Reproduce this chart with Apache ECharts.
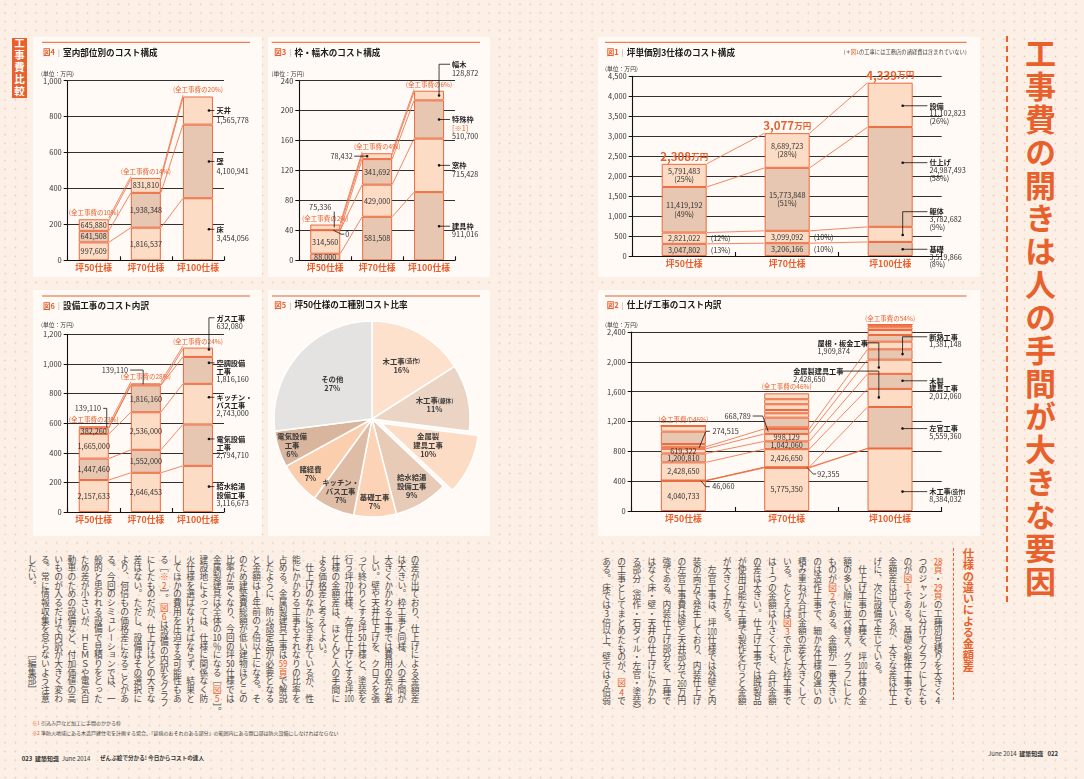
<!DOCTYPE html>
<html lang="ja">
<head>
<meta charset="utf-8">
<title>工事費の開きは人の手間が大きな要因</title>
<script src="https://cdn.jsdelivr.net/npm/echarts@6.0.0/dist/echarts.min.js"></script>
<style>
html,body{margin:0;padding:0;}
body{width:1084px;height:779px;overflow:hidden;position:relative;background-color:#fcf0e6;
 background-image:radial-gradient(circle,rgba(222,172,144,.6) 0.7px,transparent 1.1px);background-size:10.3px 8.7px;
 font-family:"Noto Sans CJK JP","Noto Sans",sans-serif;color:#333;}
.panel{position:absolute;background:#fffaf5;}
.vt{position:absolute;writing-mode:vertical-rl;white-space:nowrap;}
.body{font-size:8.7px;height:152px;color:#4a4a4a;}
.o{color:#e8602c;}
.tcy{text-combine-upright:all;}
.dash{position:absolute;width:0;}
.abs{position:absolute;white-space:nowrap;}
#chart{position:absolute;left:0;top:0;width:1084px;height:779px;}
</style>
</head>
<body>
<div class="panel" style="left:33px;top:37px;width:229px;height:240px"></div>
<div class="panel" style="left:268px;top:37px;width:222px;height:240px"></div>
<div class="panel" style="left:598px;top:37px;width:382px;height:240px"></div>
<div class="panel" style="left:33px;top:290px;width:229px;height:246px"></div>
<div class="panel" style="left:268px;top:290px;width:222px;height:246px"></div>
<div class="panel" style="left:598px;top:290px;width:382px;height:246px"></div>

<div class="vt" style="left:12px;top:38px;width:15px;height:60px;background:#e8602c;color:#fff;font-weight:bold;font-size:10.5px;line-height:15px;letter-spacing:1.4px;text-align:center;">工事費比較</div>

<div class="vt" style="right:24px;top:38px;font-size:31px;line-height:40px;letter-spacing:2px;font-weight:bold;color:#e8602c;">工事費の開きは人の手間が大きな要因</div>
<div class="dash" style="left:1006px;top:36px;height:566px;border-left:2.5px dashed #e8602c;"></div>

<div class="vt" style="right:108.7px;top:548px;font-size:11.3px;line-height:14px;font-weight:bold;color:#e8602c;">仕様の違いによる金額差</div>
<div class="dash" style="left:952.5px;top:548px;height:152px;border-left:1.5px dashed #e8602c;"></div>

<div class="vt body" id="bodyL" style="right:662.4px;top:555px;line-height:13.2px;"></div>
<div class="vt body" id="bodyR" style="right:138.5px;top:557px;line-height:15.06px;"></div>

<div class="abs" style="left:32px;top:719.7px;font-size:5px;line-height:6px;color:#444;"><span class="o">※1</span> 引込み戸など加工に手間のかかる枠</div>
<div class="abs" style="left:32px;top:729.7px;font-size:5px;line-height:6px;color:#444;"><span class="o">※2</span> 準防火地域にある木造戸建住宅を計画する場合、「延焼のおそれのある部分」の範囲内にある開口部は防火設備にしなければならない</div>

<div class="abs" style="left:21.7px;top:754.8px;font-size:6px;line-height:7px;color:#333;"><b>023</b>&nbsp; <b>建築知識</b>&nbsp; June 2014</div>
<div class="abs" style="left:100px;top:755px;font-size:5.6px;line-height:7px;color:#333;font-weight:bold;">ぜんぶ絵で分かる! 今日からコストの達人</div>
<div class="abs" style="right:26px;top:749.5px;font-size:6px;line-height:7px;color:#333;">June 2014&nbsp; <b>建築知識</b>&nbsp;&nbsp; <b>022</b></div>

<div id="chart"></div>

<script>
// ---------------- data ----------------
const categories = ['坪50仕様', '坪70仕様', '坪100仕様'];

// 図4 室内部位別のコスト構成 (円)
const ch4Floor   = [997609, 1816537, 3454056];
const ch4Wall    = [641508, 1938348, 4100941];
const ch4Ceiling = [645880, 831810, 1565778];
const ch4Share   = ['10%', '14%', '20%'];
const ch4Y       = [0, 1000, 200];

// 図3 枠・幅木のコスト構成 (円)
const ch3Door    = [88000, 581508, 911016];   // 建具枠
const ch3Window  = [314560, 429000, 715428];  // 窓枠
const ch3Special = [0, 341692, 510700];       // 特殊枠
const ch3Base    = [75336, 78432, 128872];    // 幅木
const ch3Share   = ['2%', '4%', '6%'];
const ch3Y       = [0, 240, 40];

// 図1 坪単価別3仕様のコスト構成 (円)
const ch1Found   = [3047802, 3206166, 3519866];   // 基礎
const ch1Frame   = [2821022, 3099092, 3782682];   // 躯体
const ch1Finish  = [11419192, 15773848, 24987493];// 仕上げ
const ch1Equip   = [5791483, 8689723, 11102823];  // 設備
const ch1FoundPct  = ['13%', '10%', '8%'];
const ch1FramePct  = ['12%', '10%', '9%'];
const ch1FinishPct = ['49%', '51%', '58%'];
const ch1EquipPct  = ['25%', '28%', '26%'];
const ch1Y       = [0, 4500, 500];

// 図6 設備工事のコスト内訳 (円)
const ch6Water   = [2157633, 2646453, 3116673];  // 給水給湯設備工事
const ch6Elec    = [1447460, 1552000, 2794710];  // 電気設備工事
const ch6Kitchen = [1665000, 2536000, 2743000];  // キッチン・バス工事
const ch6Air     = [382260, 1816160, 1816160];   // 空調設備工事
const ch6Gas     = [139110, 139110, 632080];     // ガス工事
const ch6Share   = ['23%', '28%', '24%'];
const ch6Y       = [0, 1200, 200];

// 図2 仕上げ工事のコスト内訳 (円) — unlabeled thin segments
const ch2Wood    = [4040733, 5775350, 8384032];  // 木工事(造作)
const ch2Thin    = [46060, 92355, 0];
const ch2Plaster = [0, 0, 5559360];              // 左官工事
const ch2Metal   = [2428650, 2426650, 2428650];  // 金属製建具工事
const ch2WoodFit = [1200810, 1042060, 2012060];  // 木製建具工事
const ch2Roof    = [619322, 998129, 1909874];    // 屋根・板金工事
const ch2Insul   = [274515, 668789, 1381148];    // 断熱工事
const ch2Other1  = [369000, 210000, 1025000];
const ch2Other2  = [1660000, 1300000, 900000];
const ch2Other3  = [780102, 590000, 670000];
const ch2Other4  = [0, 440000, 350000];
const ch2Other5  = [0, 770000, 230000];
const ch2Other6  = [0, 670000, 137369];
const ch2Other7  = [0, 790515, 0];
const ch2Share   = ['46%', '46%', '54%'];
const ch2Y       = [0, 2400, 400];

// 図5 坪50仕様の工種別コスト比率 (%)
const pieNames  = ['木工事(造作)', '木工事(躯体)', '金属製建具工事', '給水給湯設備工事', '基礎工事', 'キッチン・バス工事', '諸経費', '電気設備工事', 'その他'];
const pieLabelNames = ['木工事(造作)', '木工事(躯体)', '金属製\n建具工事', '給水給湯\n設備工事', '基礎工事', 'キッチン・\nバス工事', '諸経費', '電気設備\n工事', 'その他'];
const pieValues = [16, 11, 10, 9, 7, 7, 7, 6, 27];

// ---------------- body text ----------------
const bodyRLines = [
 '⟨28頁⟩・⟨29頁⟩の工種別見積りを大きく4',
 'つのジャンルに分けてグラフにしたも',
 'のが⟨図1⟩である。基礎や躯体工事でも',
 '金額差は出ているが、大きな差は仕上',
 'げに、次に設備で生じている。',
 '　仕上げ工事の工種を、坪100仕様の金',
 '額の多い順に並べ替え、グラフにした',
 'ものが⟨図2⟩である。金額が一番大きい',
 'のは造作工事で、細かな仕様の違いの',
 '積み重ねが合計金額の差を大きくして',
 'いる。たとえば⟨図3⟩で示した枠工事で',
 'は1つの金額は小さくても、合計金額',
 'の差は大きい。仕上げ工事では既製品',
 'が使用可能な工種で製作を行うと金額',
 'が大きく上がる。',
 '　左官工事は、坪100仕様では外壁と内',
 '装の両方で発生しており、内装仕上げ',
 'の左官工事費は壁と天井部分で260万円',
 '強である。内装仕上げ部分を、工種で',
 'はなく床・壁・天井の仕上げにかかわ',
 'る部分（造作・石タイル・左官・塗装）',
 'の工事としてまとめたものが、⟨図4⟩で',
 'ある。床では3倍以上、壁では5倍弱'
];
const bodyLLines = [
 'の差が出ており、仕上げによる金額差',
 'は大きい。枠工事と同様、人の手間が',
 '大きくかかわる工事では費用の差が著',
 'しい。壁や天井仕上げを、クロスを張',
 'って終わりとする坪50仕様と、塗装を',
 '行う坪70仕様、左官仕上げとする坪100',
 '仕様の金額差は、ほとんど人の手間に',
 'よる価格差と考えてよい。',
 '　仕上げのなかに含まれているが、性',
 '能にかかわる工事もそれなりの比率を',
 '占める。金属製建具工事は⟨59頁⟩で解説',
 'したように、防火認定品が必要となる',
 'と金額は1年前の2倍以上になる。そ',
 'のため建築費総額が低い建物ほどこの',
 '比率が高くなり、今回の坪50仕様では',
 '金属製建具は全体の10％になる［⟨図5⟩］。',
 '建設地によっては、仕様に関係なく防',
 '火仕様を選ばなければならず、結果と',
 'してほかの費用を圧迫する可能性もあ',
 'る［⟨※2⟩］。⟨図6⟩は設備の内訳をグラフ',
 'にしたものだが、仕上げほどの大きな',
 '差はない。ただし、設備はその選択に',
 'より、何倍もの価格差になることがあ',
 'る。今回のシミュレーションでは、一',
 '般的と思われる設備で見積りをとった',
 'ため差が小さいが、ＨＥＭＳや電気自',
 '動車のための設備など、付加価値の高',
 'いものが入るだけで内訳が大きく変わ',
 'る。常に情報収集を怠らないよう注意',
 'したい。　　　　　　　　［編集部］'
];
function vtHtml(lines) {
  return lines.map(s => s.replace(/\d+/g, d => '<span class="tcy">' + d + '</span>')
    .replace(/⟨/g, '<span class="o">').replace(/⟩/g, '</span>')).join('<br>');
}
document.getElementById('bodyL').innerHTML = vtHtml(bodyLLines);
document.getElementById('bodyR').innerHTML = vtHtml(bodyRLines);

// ---------------- chart ----------------
const FONT = '"Noto Sans CJK JP","Noto Sans",sans-serif';
const OR = '#ec6a3f';
const ORT = '#e95e2c';
const LT = '#fcdcc4', DK = '#e7c7b1';
const fmt = v => Math.round(v).toLocaleString('en-US');

function makeRich(lh) {
  return {
    n: {fontSize: 7.2, fontWeight: 'bold', fill: '#1e1e1e', fontFamily: FONT, lineHeight: lh},
    s: {fontSize: 5.4, fontWeight: 'bold', fill: '#1e1e1e', fontFamily: FONT, lineHeight: lh},
    v: {fontSize: 7.3, fill: '#333', fontFamily: FONT, lineHeight: lh},
    o: {fontSize: 7.3, fill: ORT, fontFamily: FONT, lineHeight: lh}
  };
}
function richName(s) {
  const m = s.match(/^(.*)(\(.+\))$/);
  return m ? '{n|' + m[1] + '}{s|' + m[2] + '}' : '{n|' + s + '}';
}
function block(name, val, note, pct) {
  const parts = name.split('\n').map(richName);
  if (note) parts.push('{o|' + note + '}');
  if (val != null) parts.push('{v|' + fmt(val) + '}');
  if (pct) parts.push('{v|(' + pct + ')}');
  return parts.join('\n');
}

const grids = [], xAxes = [], yAxes = [], series = [], graphics = [];

function stackChart(c) {
  const gi = grids.length;
  grids.push({left: c.box[0], top: c.box[1], width: c.box[2], height: c.box[3], containLabel: false, outerBoundsMode: 'none'});
  xAxes.push({type: 'category', gridIndex: gi, data: categories, boundaryGap: true,
    axisLine: {show: true, lineStyle: {color: '#111', width: 1.1}},
    axisTick: {show: true, inside: true, length: 4, lineStyle: {color: '#111', width: 1.1}},
    splitLine: {show: false},
    axisLabel: {color: ORT, fontWeight: 'bold', fontSize: 8.8, margin: c.catMargin, fontFamily: FONT, interval: 0, hideOverlap: false}, z: 5});
  yAxes.push({type: 'value', gridIndex: gi, min: c.y[0], max: c.y[1], interval: c.y[2],
    axisLine: {show: true, lineStyle: {color: '#111', width: 1.1}},
    axisTick: {show: true, length: 4, lineStyle: {color: '#111', width: 1}},
    splitLine: {show: true, lineStyle: {color: '#1a1a1a', width: 0.9, type: 'solid'}},
    axisLabel: {fontSize: 7.5, color: '#333', margin: 6, fontFamily: FONT, formatter: v => fmt(v)}});
  const n = c.layers.length;
  const vals = c.layers.map(l => l.yen.map(v => v / 10000));
  const cum = [], base = [];
  for (let k = 0; k < n; k++) {
    cum.push([]); base.push([]);
    for (let i = 0; i < 3; i++) {
      const b = k ? cum[k - 1][i] : 0;
      base[k].push(b); cum[k].push(b + vals[k][i]);
    }
  }
  c.layers.forEach((l, k) => {
    series.push({type: 'bar', name: l.name, xAxisIndex: gi, yAxisIndex: gi, stack: 'st' + gi, barWidth: c.bw,
      clip: false, silent: true, animation: false,
      itemStyle: {borderColor: OR, borderWidth: 1},
      data: vals[k].map((v, i) => ({value: v, itemStyle: {color: l.color},
        label: {show: !!(l.inner && l.inner[i]), position: 'inside', fontSize: 7.3, color: '#333', fontFamily: FONT, lineHeight: 8.4,
          formatter: () => fmt(l.yen[i]) + (l.innerPct ? '\n(' + l.pct[i] + ')' : '')}}))});
  });
  const rich = makeRich(c.lh);
  series.push({type: 'custom', xAxisIndex: gi, yAxisIndex: gi, data: [[0, 0]], silent: true, animation: false, z: 10, clip: false,
    renderItem: (params, api) => {
      const ch = [];
      const hw = c.bw / 2;
      const P = (i, v) => api.coord([i, v]);
      const h = {P, hw, base, cum, vals,
        dot: (x, y) => ({type: 'circle', shape: {cx: x, cy: y, r: 1.3}, style: {fill: '#111'}}),
        poly: pts => ({type: 'polyline', shape: {points: pts}, style: {stroke: '#111', lineWidth: 0.8, fill: 'none'}}),
        text: (x, y, t, align, r2) => ({type: 'text', x, y, style: {text: t, rich: r2 || rich, align: align || 'left', verticalAlign: 'middle', fontFamily: FONT, fontSize: 7.3, fill: '#333'}}),
        block: (x, y, t, align) => ({type: 'text', x, y: y - c.lh / 2, style: {text: t, rich, align: align || 'left', verticalAlign: 'top', fontFamily: FONT}})
      };
      // connector lines between bars
      const nc = c.connect == null ? n : c.connect;
      for (let i = 0; i < 2; i++) {
        for (let k = 0; k < nc; k++) {
          const a = P(i, cum[k][i]), b = P(i + 1, cum[k][i + 1]);
          const offs = (k === n - 1 && c.doubleTop) ? [-1.4, 1.4] : [0];
          offs.forEach(o => ch.push({type: 'line', shape: {x1: a[0] + hw, y1: a[1] + o, x2: b[0] - hw, y2: b[1] + o}, style: {stroke: OR, lineWidth: 0.8}}));
        }
      }
      // share annotations
      (c.share || []).forEach((s, i) => {
        const p = P(i, cum[n - 1][i]);
        ch.push({type: 'text', x: p[0], y: p[1] - 6.5, style: {text: '(全工事費の' + s + ')', fill: ORT, fontSize: 6.5, fontFamily: FONT, align: 'center', verticalAlign: 'middle'}});
      });
      // right-hand labels of the last bar
      (c.right || []).forEach(r => {
        const k = r.k, L = c.layers[k];
        const v = base[k][2] + vals[k][2] * (r.frac == null ? 0.5 : r.frac);
        const p = P(2, v);
        const bx = p[0] + hw;
        const dx = bx - c.dotIn, dy = p[1];
        const ly = dy + (r.dy || 0);
        const lx = bx + c.gap;
        ch.push(h.poly([[dx, dy], [dx, ly], [lx - 2, ly]]));
        ch.push(h.dot(dx, dy));
        ch.push(h.block(lx, ly, block(r.name, L.yen[2], r.note, r.pct ? L.pct[2] : null), 'left'));
      });
      if (c.extra) c.extra(ch, h);
      return {type: 'group', children: ch};
    }});
}

// 図4
stackChart({box: [67.7, 80.7, 156.3, 179.6], y: ch4Y, bw: 30, catMargin: 2.5, lh: 9.3, dotIn: 4, gap: 3.5,
  doubleTop: true, share: ch4Share,
  layers: [
    {name: '床', yen: ch4Floor, color: LT, inner: [1, 1, 0]},
    {name: '壁', yen: ch4Wall, color: DK, inner: [1, 1, 0]},
    {name: '天井', yen: ch4Ceiling, color: LT, inner: [1, 1, 0]}
  ],
  right: [{k: 2, name: '天井'}, {k: 1, name: '壁'}, {k: 0, name: '床'}]
});

// 図3
stackChart({box: [299.3, 80.7, 155.7, 179.6], y: ch3Y, bw: 30, catMargin: 2.5, lh: 8.5, dotIn: 5, gap: 8,
  doubleTop: true, share: ch3Share,
  layers: [
    {name: '建具枠', yen: ch3Door, color: DK, inner: [1, 1, 0]},
    {name: '窓枠', yen: ch3Window, color: LT, inner: [1, 1, 0]},
    {name: '特殊枠', yen: ch3Special, color: DK, inner: [0, 1, 0]},
    {name: '幅木', yen: ch3Base, color: LT}
  ],
  right: [{k: 3, name: '幅木', dy: -31.3}, {k: 2, name: '特殊枠', note: '[※1]'}, {k: 1, name: '窓枠'}, {k: 0, name: '建具枠'}],
  extra: (ch, h) => {
    const top0 = h.P(0, h.cum[3][0]);
    const m0 = h.P(0, h.base[3][0] + h.vals[3][0] / 2);
    ch.push(h.text(top0[0] - 5, top0[1] - 17.5, '{v|' + fmt(ch3Base[0]) + '}', 'center'));
    ch.push(h.poly([[top0[0] + 9, top0[1] - 13], [top0[0] + 9, m0[1]]]));
    const z = h.P(0, h.cum[2][0]);
    const bx = z[0] + h.hw;
    ch.push(h.poly([[bx - 7, z[1]], [bx + 1, z[1] + 4], [bx + 4, z[1] + 4]]));
    ch.push(h.text(bx + 5, z[1] + 4, '{v|' + fmt(ch3Special[0]) + '}', 'left'));
    const m1 = h.P(1, h.base[3][1] + h.vals[3][1] / 2);
    const lx = m1[0] - h.hw;
    ch.push(h.poly([[lx + 5, m1[1]], [lx - 8, m1[1]]]));
    ch.push(h.dot(lx + 5, m1[1]));
    ch.push(h.text(lx - 9.4, m1[1], '{v|' + fmt(ch3Base[1]) + '}', 'right'));
  }
});

// 図1
const totalRich = {a: {fontSize: 11.5, fontWeight: 'bold', fill: ORT, fontFamily: FONT}, b: {fontSize: 8.5, fontWeight: 'bold', fill: ORT, fontFamily: FONT}};
stackChart({box: [632.7, 76.3, 309, 179.7], y: ch1Y, bw: 45, catMargin: 3.5, lh: 7.6, dotIn: 10, gap: 16.7,
  doubleTop: false, share: null,
  layers: [
    {name: '基礎', yen: ch1Found, pct: ch1FoundPct, color: DK, inner: [1, 1, 0]},
    {name: '躯体', yen: ch1Frame, pct: ch1FramePct, color: LT, inner: [1, 1, 0]},
    {name: '仕上げ', yen: ch1Finish, pct: ch1FinishPct, color: DK, inner: [1, 1, 0], innerPct: true},
    {name: '設備', yen: ch1Equip, pct: ch1EquipPct, color: LT, inner: [1, 1, 0], innerPct: true}
  ],
  right: [
    {k: 3, name: '設備', pct: true, frac: 0.48},
    {k: 2, name: '仕上げ', pct: true, frac: 0.643},
    {k: 1, name: '躯体', pct: true, frac: 0.46, dy: -23.3},
    {k: 0, name: '基礎', pct: true, frac: 0.48}
  ],
  extra: (ch, h) => {
    const pcts = [ch1FoundPct, ch1FramePct];
    for (let i = 0; i < 2; i++) {
      for (let k = 0; k < 2; k++) {
        const p = h.P(i, h.base[k][i] + h.vals[k][i] / 2);
        ch.push(h.text(p[0] + h.hw + 4, p[1], '{v|(' + pcts[k][i] + ')}', 'left'));
      }
    }
    for (let i = 0; i < 3; i++) {
      const p = h.P(i, h.cum[3][i]);
      ch.push(h.text(p[0], p[1] - 7.5, '{a|' + fmt(h.cum[3][i]) + '}{b|万円}', 'center', totalRich));
    }
  }
});

// 図6
stackChart({box: [67.7, 334.3, 156.3, 177.7], y: ch6Y, bw: 30, catMargin: 3, lh: 8.2, dotIn: 4, gap: 3.5,
  doubleTop: true, share: ch6Share,
  layers: [
    {name: '給水給湯設備工事', yen: ch6Water, color: LT, inner: [1, 1, 0]},
    {name: '電気設備工事', yen: ch6Elec, color: DK, inner: [1, 1, 0]},
    {name: 'キッチン・バス工事', yen: ch6Kitchen, color: LT, inner: [1, 1, 0]},
    {name: '空調設備工事', yen: ch6Air, color: DK, inner: [1, 1, 0]},
    {name: 'ガス工事', yen: ch6Gas, color: LT}
  ],
  right: [
    {k: 4, name: 'ガス工事', frac: 0.8, dy: -31.7},
    {k: 3, name: '空調設備\n工事', frac: 0.78},
    {k: 2, name: 'キッチン・\nバス工事', frac: 0.67},
    {k: 1, name: '電気設備\n工事', frac: 0.65},
    {k: 0, name: '給水給湯\n設備工事', frac: 0.55}
  ],
  extra: (ch, h) => {
    const m0 = h.P(0, h.base[4][0] + h.vals[4][0] / 2);
    const t0 = m0[1] - 18.9;
    ch.push(h.text(m0[0] + 7.4, t0, '{v|' + fmt(ch6Gas[0]) + '}', 'right'));
    ch.push(h.poly([[m0[0] + 9.4, t0], [m0[0] + 13, t0], [m0[0] + 13, m0[1]]]));
    const m1 = h.P(1, h.base[4][1] + h.vals[4][1] / 2);
    const t1 = m1[1] - 14.3;
    ch.push(h.text(m1[0] - 17.7, t1, '{v|' + fmt(ch6Gas[1]) + '}', 'right'));
    ch.push(h.poly([[m1[0] - 15.7, t1], [m1[0] - 2.7, t1], [m1[0] - 2.7, m1[1]]]));
  }
});

// 図2
stackChart({box: [631.7, 332, 310, 179], y: ch2Y, bw: 45, catMargin: 3.5, lh: 7.9, dotIn: 10, gap: 16.7,
  doubleTop: false, share: ch2Share, connect: 7,
  layers: [
    {name: '木工事(造作)', yen: ch2Wood, color: LT, inner: [1, 1, 0]},
    {name: '工事A', yen: ch2Thin, color: LT},
    {name: '左官工事', yen: ch2Plaster, color: DK},
    {name: '金属製建具工事', yen: ch2Metal, color: LT, inner: [1, 1, 0]},
    {name: '木製建具工事', yen: ch2WoodFit, color: DK, inner: [1, 1, 0]},
    {name: '屋根・板金工事', yen: ch2Roof, color: LT, inner: [1, 1, 0]},
    {name: '断熱工事', yen: ch2Insul, color: DK},
    {name: '工事B', yen: ch2Other1, color: LT},
    {name: '工事C', yen: ch2Other2, color: DK},
    {name: '工事D', yen: ch2Other3, color: LT},
    {name: '工事E', yen: ch2Other4, color: LT},
    {name: '工事F', yen: ch2Other5, color: LT},
    {name: '工事G', yen: ch2Other6, color: LT},
    {name: '工事H', yen: ch2Other7, color: LT}
  ],
  right: [
    {k: 6, name: '断熱工事', frac: 0.54, dy: -17.3},
    {k: 4, name: '木製\n建具工事', frac: 0.54},
    {k: 2, name: '左官工事', frac: 0.48},
    {k: 0, name: '木工事(造作)', frac: 0.31}
  ],
  extra: (ch, h) => {
    // 坪50
    const a = h.P(0, h.base[6][0] + h.vals[6][0] / 2);
    const br0 = a[0] + h.hw;
    const ta = a[1] - 16.5;
    ch.push(h.poly([[br0 - 6.7, a[1]], [br0, ta], [br0 + 4, ta]]));
    ch.push(h.text(br0 + 6.6, ta, '{v|' + fmt(ch2Insul[0]) + '}', 'left'));
    const b = h.P(0, h.base[1][0] + h.vals[1][0] / 2);
    ch.push(h.poly([[br0 - 5, b[1]], [br0, b[1] + 6], [br0 + 4, b[1] + 6]]));
    ch.push(h.text(br0 + 6.3, b[1] + 6, '{v|' + fmt(ch2Thin[0]) + '}', 'left'));
    // 坪70
    const c1 = h.P(1, h.base[6][1] + h.vals[6][1] / 2);
    const bl1 = c1[0] - h.hw;
    const tc = c1[1] - 15.4;
    ch.push(h.poly([[bl1 - 11.5, tc], [bl1 - 1.5, tc], [bl1 + 4, c1[1]]]));
    ch.push(h.text(bl1 - 13.3, tc, '{v|' + fmt(ch2Insul[1]) + '}', 'right'));
    const d1 = h.P(1, h.base[1][1] + h.vals[1][1] / 2);
    const br1 = d1[0] + h.hw;
    ch.push(h.poly([[br1 - 2, d1[1]], [br1 + 4, d1[1] + 6.4], [br1 + 7, d1[1] + 6.4]]));
    ch.push(h.text(br1 + 8, d1[1] + 6.4, '{v|' + fmt(ch2Thin[1]) + '}', 'left'));
    // 坪100 left-side callouts
    const lefts = [
      {k: 5, name: '屋根・板金工事', frac: 0.45, dy: -24.6, tx: -50, lineStart: -5},
      {k: 3, name: '金属製建具工事', frac: 0.53, dy: -26.3, tx: -74.4, lineStart: -26}
    ];
    lefts.forEach(r => {
      const p = h.P(2, h.base[r.k][2] + h.vals[r.k][2] * r.frac);
      const bl = p[0] - h.hw;
      const lxv = bl + 11.3;
      const ty = p[1] + r.dy;
      ch.push(h.poly([[bl + r.lineStart, ty], [lxv, ty], [lxv, p[1]]]));
      ch.push(h.dot(lxv, p[1]));
      ch.push(h.block(bl + r.tx, ty, block(r.name, r.k === 5 ? ch2Roof[2] : ch2Metal[2]), 'left'));
    });
  }
});

// 図5 pie
const PIE_C = [372, 419];
const PIE_COLORS = ['#fde1cc', '#ebd4c4', '#fddcc5', '#e8cbb7', '#fcd3b6', '#dfbca5', '#fbcfae', '#d9b59e', '#e4e3e2'];
const PIE_LABEL_R = [61, 64, 83, 78, 83, 79, 82, 84, 53];
series.push({type: 'pie', center: PIE_C, radius: [0, 98], startAngle: 90, clockwise: true,
  selectedMode: 'single', selectedOffset: 10, animation: false,
  emphasis: {disabled: true, scale: false},
  itemStyle: {borderColor: '#ffffff', borderWidth: 1.5},
  label: {show: true, position: 'inside', fontFamily: FONT, fontSize: 7.4, fontWeight: 'bold', color: '#3a3a3a', lineHeight: 9,
    rich: {p: {fontSize: 5.6, fontWeight: 'bold', color: '#3a3a3a', fontFamily: FONT}},
    formatter: p => pieLabelNames[p.dataIndex].replace(/\((.+)\)/, '{p|($1)}') + '\n' + p.value + '%'},
  labelLine: {show: false},
  labelLayout: p => {
    const i = p.dataIndex;
    const tot = pieValues.reduce((s, v) => s + v, 0);
    let acc = 0;
    for (let j = 0; j < i; j++) acc += pieValues[j];
    const ang = (acc + pieValues[i] / 2) / tot * 2 * Math.PI;
    const r = PIE_LABEL_R[i];
    return {x: PIE_C[0] + r * Math.sin(ang), y: PIE_C[1] - r * Math.cos(ang), align: 'center', verticalAlign: 'middle'};
  },
  data: pieNames.map((n, i) => ({name: n, value: pieValues[i], selected: i === 2, itemStyle: {color: PIE_COLORS[i]}}))
});

// titles, rules, units
function title(x, y, num, text) {
  graphics.push({type: 'text', x, y, silent: true, style: {text: '{a|' + num + '}{b|  |  }{c|' + text + '}', verticalAlign: 'middle',
    rich: {a: {fill: ORT, fontSize: 7.5, fontWeight: 'bold', fontFamily: FONT},
           b: {fill: '#999', fontSize: 7, fontFamily: FONT},
           c: {fill: '#1a1a1a', fontSize: 8.6, fontWeight: 'bold', fontFamily: FONT}}}});
}
function rule(x1, x2, y) {
  graphics.push({type: 'line', silent: true, shape: {x1, y1: y, x2, y2: y}, style: {stroke: ORT, lineWidth: 1}});
}
function unit(x, y) {
  graphics.push({type: 'text', x, y, silent: true, style: {text: '(単位：万円)', fill: '#333', fontSize: 5.8, fontFamily: FONT, verticalAlign: 'middle'}});
}
title(43, 52.3, '図4', '室内部位別のコスト構成');
title(274.3, 52.3, '図3', '枠・幅木のコスト構成');
title(606.7, 52.3, '図1', '坪単価別3仕様のコスト構成');
title(43, 305.7, '図6', '設備工事のコスト内訳');
title(274.3, 305, '図5', '坪50仕様の工種別コスト比率');
title(606.7, 305, '図2', '仕上げ工事のコスト内訳');
rule(42, 250, 42.3); rule(271.7, 480, 42.3); rule(605, 966.7, 42.3);
rule(42, 250, 296); rule(272, 480, 296); rule(605, 966.7, 296);
unit(41, 74); unit(271.5, 74); unit(605, 68.3); unit(41, 324.3); unit(605, 324.3);
graphics.push({type: 'text', x: 966.7, y: 51.7, silent: true, style: {text: '{a|(＊}{b|図1}{a|の工事には工務店の諸経費は含まれていない)}', align: 'right', verticalAlign: 'middle',
  rich: {a: {fill: '#444', fontSize: 5.3, fontFamily: FONT}, b: {fill: ORT, fontSize: 5.3, fontFamily: FONT}}}});

const chart = echarts.init(document.getElementById('chart'), null, {renderer: 'canvas', width: 1084, height: 779});
chart.setOption({
  animation: false,
  backgroundColor: 'transparent',
  textStyle: {fontFamily: FONT},
  tooltip: {show: false},
  grid: grids,
  xAxis: xAxes,
  yAxis: yAxes,
  series: series,
  graphic: graphics
});
</script>
</body>
</html>
